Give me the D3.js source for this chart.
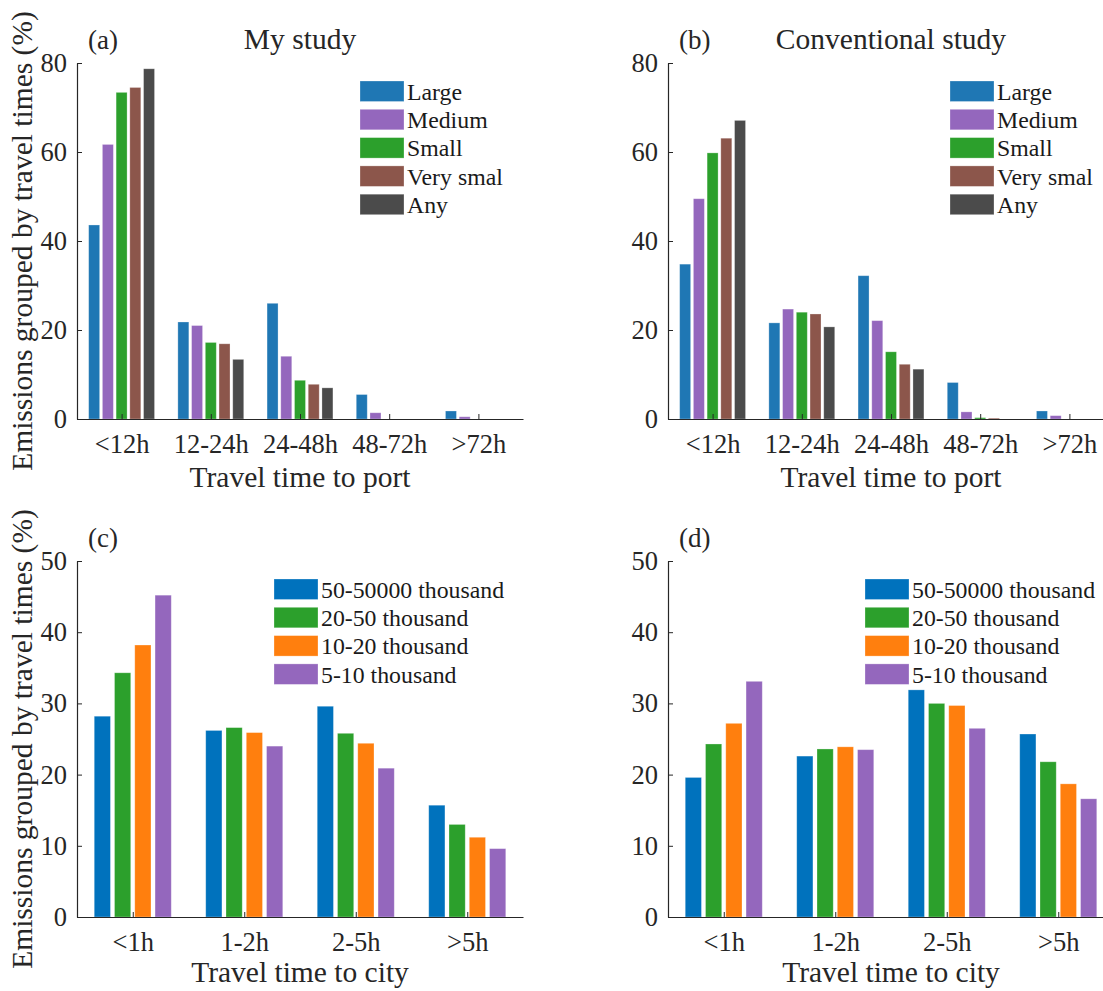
<!DOCTYPE html>
<html>
<head>
<meta charset="utf-8">
<script src="https://cdn.jsdelivr.net/npm/d3@7"></script>
<style>
  html, body { margin: 0; padding: 0; background: #fff; }
  svg { display: block; }
</style>
</head>
<body>
<svg id="chart" width="1103" height="991"></svg>
<script>
// Port travel-time categories and vessel-size series
const portCategories = ["<12h", "12-24h", "24-48h", "48-72h", ">72h"];
const portSeries = ["Large", "Medium", "Small", "Very smal", "Any"];
const portColors = ["#1f77b4", "#9467bd", "#2ca02c", "#8c564b", "#4b4b4b"];
const portTicks = [0, 20, 40, 60, 80];

// (a) My study: one array per series, one value per category
const myStudyLarge    = [43.6, 21.8, 26.0, 5.5, 1.8];
const myStudyMedium   = [61.7, 21.0, 14.1, 1.4, 0.5];
const myStudySmall    = [73.4, 17.2, 8.7, 0.0, 0.0];
const myStudyVerySmal = [74.5, 16.9, 7.8, 0.0, 0.0];
const myStudyAny      = [78.7, 13.4, 7.0, 0.0, 0.0];

// (b) Conventional study
const convLarge    = [34.8, 21.6, 32.2, 8.2, 1.8];
const convMedium   = [49.5, 24.7, 22.1, 1.6, 0.75];
const convSmall    = [59.8, 24.0, 15.1, 0.3, 0.0];
const convVerySmal = [63.1, 23.6, 12.3, 0.2, 0.0];
const convAny      = [67.1, 20.7, 11.2, 0.0, 0.0];

// City travel-time categories and population series
const cityCategories = ["<1h", "1-2h", "2-5h", ">5h"];
const citySeries = ["50-50000 thousand", "20-50 thousand", "10-20 thousand", "5-10 thousand"];
const cityColors = ["#0072bd", "#2ca02c", "#ff7f0e", "#9467bd"];
const cityTicks = [0, 10, 20, 30, 40, 50];

// (c) My study
const cityMyPop50k = [28.2, 26.2, 29.6, 15.7];
const cityMyPop20  = [34.3, 26.6, 25.8, 13.0];
const cityMyPop10  = [38.2, 25.9, 24.4, 11.2];
const cityMyPop5   = [45.2, 24.0, 20.9, 9.6];

// (d) Conventional study
const cityConvPop50k = [19.6, 22.6, 31.9, 25.7];
const cityConvPop20  = [24.3, 23.6, 30.0, 21.8];
const cityConvPop10  = [27.2, 23.9, 29.7, 18.7];
const cityConvPop5   = [33.1, 23.5, 26.5, 16.6];

const svg = d3.select("#chart");
const axisColor = "#262626";
const serif = '"Liberation Serif"';
const tickSize = 26.5, labelSize = 29.5, legendSize = 23.8;

function styleText(sel, size) {
  return sel
    .attr("font-family", "Liberation Serif")
    .style("font-family", serif)
    .style("font-size", size + "px")
    .attr("fill", axisColor);
}

function drawPanel(opt) {
  const { left, top, width, height, categories, seriesNames, seriesValues, colors,
          yMax, yTicks, letter, title, xLabel, xLabelOffset, legendX, legendTextX, yLabel } = opt;
  const g = svg.append("g");

  const x = d3.scaleLinear().domain([0.5, categories.length + 0.5]).range([left, left + width]);
  const y = d3.scaleLinear().domain([0, yMax]).range([top + height, top]);

  // grouped bar geometry (as in MATLAB's bar)
  const n = seriesNames.length;
  const groupWidth = Math.min(0.8, n / (n + 1.5));
  const step = groupWidth / n;
  const barW = 0.8 * step;

  seriesValues.forEach((vals, si) => {
    const offset = (si - (n - 1) / 2) * step;
    g.selectAll(null)
      .data(vals)
      .enter()
      .append("rect")
      .attr("x", (d, i) => x(i + 1 + offset - barW / 2))
      .attr("width", x(barW) - x(0))
      .attr("y", d => y(d))
      .attr("height", d => y(0) - y(d))
      .attr("fill", colors[si])
      .attr("stroke", "#ffffff")
      .attr("stroke-opacity", 0.35)
      .attr("stroke-width", 0.8);
  });

  // axes
  const xAxis = d3.axisBottom(x)
    .tickValues(d3.range(1, categories.length + 1))
    .tickFormat(d => categories[d - 1])
    .tickSizeInner(-5)
    .tickSizeOuter(0)
    .tickPadding(15);
  const xg = g.append("g").attr("transform", `translate(0,${top + height})`).call(xAxis)
    .attr("font-family", "Liberation Serif");
  xg.select(".domain").attr("stroke", axisColor).attr("stroke-width", 1.2);
  xg.selectAll(".tick line").attr("stroke", axisColor);
  styleText(xg.selectAll(".tick text"), tickSize).attr("dy", "0.72em");

  const yAxis = d3.axisLeft(y)
    .tickValues(yTicks)
    .tickSizeInner(-5)
    .tickSizeOuter(0)
    .tickPadding(10);
  const yg = g.append("g").attr("transform", `translate(${left},0)`).call(yAxis)
    .attr("font-family", "Liberation Serif");
  yg.select(".domain").attr("stroke", axisColor).attr("stroke-width", 1.2);
  yg.selectAll(".tick line").attr("stroke", axisColor);
  styleText(yg.selectAll(".tick text"), tickSize);

  // panel letter and title
  styleText(g.append("text"), 27).attr("x", left + 11).attr("y", top - 14).text(letter);
  if (title) {
    styleText(g.append("text"), labelSize).attr("x", left + width / 2).attr("y", top - 14)
      .attr("text-anchor", "middle").text(title);
  }

  // x axis label
  styleText(g.append("text"), labelSize).attr("x", left + width / 2).attr("y", top + height + xLabelOffset)
    .attr("text-anchor", "middle").text(xLabel);

  // y axis label
  if (yLabel) {
    styleText(g.append("text"), labelSize)
      .attr("transform", `translate(32,${top + height / 2}) rotate(-90)`)
      .attr("text-anchor", "middle").text(yLabel);
  }

  // legend
  const lg = g.append("g");
  seriesNames.forEach((name, i) => {
    const ry = top + 18 + i * 28.3;
    lg.append("rect").attr("x", legendX).attr("y", ry)
      .attr("width", 44).attr("height", 20.5).attr("fill", colors[i])
      .attr("stroke", "#ffffff").attr("stroke-opacity", 0.35).attr("stroke-width", 0.8);
    styleText(lg.append("text"), legendSize).attr("x", legendTextX).attr("y", ry + 10.5)
      .attr("dy", "0.35em").attr("fill", "#1a1a1a").text(name);
  });
}

const yLabelText = "Emissions grouped by travel times (%)";

drawPanel({
  left: 77, top: 63, width: 446, height: 356,
  categories: portCategories, seriesNames: portSeries,
  seriesValues: [myStudyLarge, myStudyMedium, myStudySmall, myStudyVerySmal, myStudyAny],
  colors: portColors, yMax: 80, yTicks: portTicks,
  letter: "(a)", title: "My study", xLabel: "Travel time to port", xLabelOffset: 68,
  legendX: 360, legendTextX: 407, yLabel: yLabelText
});

drawPanel({
  left: 668, top: 63, width: 446, height: 356,
  categories: portCategories, seriesNames: portSeries,
  seriesValues: [convLarge, convMedium, convSmall, convVerySmal, convAny],
  colors: portColors, yMax: 80, yTicks: portTicks,
  letter: "(b)", title: "Conventional study", xLabel: "Travel time to port", xLabelOffset: 68,
  legendX: 950, legendTextX: 997, yLabel: null
});

drawPanel({
  left: 77, top: 561, width: 446, height: 356,
  categories: cityCategories, seriesNames: citySeries,
  seriesValues: [cityMyPop50k, cityMyPop20, cityMyPop10, cityMyPop5],
  colors: cityColors, yMax: 50, yTicks: cityTicks,
  letter: "(c)", title: null, xLabel: "Travel time to city", xLabelOffset: 65,
  legendX: 274, legendTextX: 321, yLabel: yLabelText
});

drawPanel({
  left: 668, top: 561, width: 446, height: 356,
  categories: cityCategories, seriesNames: citySeries,
  seriesValues: [cityConvPop50k, cityConvPop20, cityConvPop10, cityConvPop5],
  colors: cityColors, yMax: 50, yTicks: cityTicks,
  letter: "(d)", title: null, xLabel: "Travel time to city", xLabelOffset: 65,
  legendX: 865, legendTextX: 912, yLabel: null
});
</script>
</body>
</html>
